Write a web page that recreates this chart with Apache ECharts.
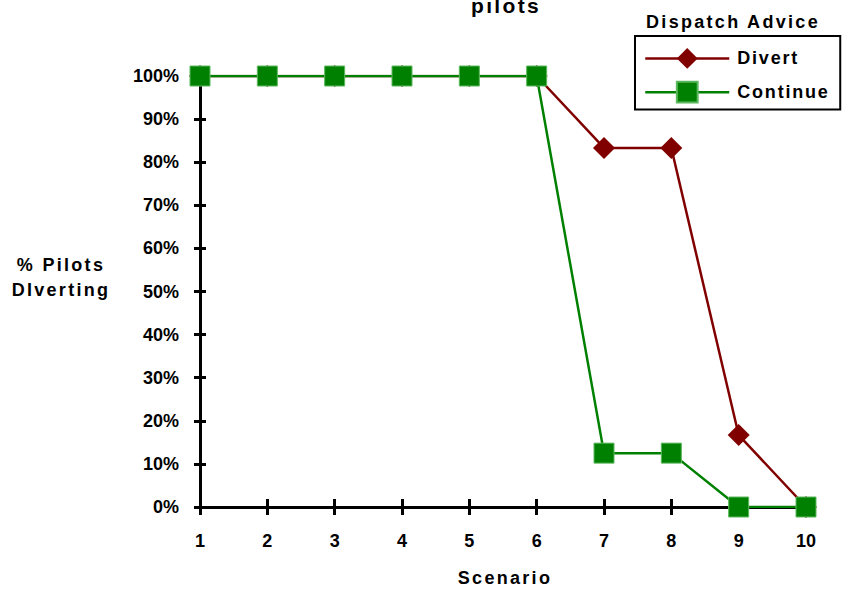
<!DOCTYPE html>
<html>
<head>
<meta charset="utf-8">
<script src="https://cdn.jsdelivr.net/npm/echarts@6/dist/echarts.min.js"></script>
<style>
  html, body { margin: 0; padding: 0; background: #fff; }
  #chart { width: 846px; height: 593px; }
  /* spaced-out lettering for the word labels (title, names, legend) */
  #chart text[style*="Helvetica, Arial"] { letter-spacing: 2.3px; }
  #chart text[style*="Helvetica, sans-serif"] { letter-spacing: 1.8px; }
</style>
</head>
<body>
<div id="chart"></div>
<script>
// Scenario numbers along the x axis
const scenarios = ['1', '2', '3', '4', '5', '6', '7', '8', '9', '10'];
// Share of pilots diverting for each dispatch advice (fraction of 1)
const divertShare = [1, 1, 1, 1, 1, 1, 0.833, 0.833, 0.167, 0];
const continueShare = [1, 1, 1, 1, 1, 1, 0.125, 0.125, 0, 0];
const seriesNames = ['Divert', 'Continue'];

const NUM_FONT = '"Liberation Sans", sans-serif';
const WORD_FONT = '"Liberation Sans", Helvetica, Arial, sans-serif';
const LEGEND_FONT = '"Liberation Sans", Helvetica, sans-serif';

const chart = echarts.init(document.getElementById('chart'), null, { renderer: 'svg' });

const tickText = { color: '#000', fontFamily: NUM_FONT, fontWeight: 'bold', fontSize: 18 };
const wordStyle = { fontFamily: WORD_FONT, fontWeight: 'bold', fontSize: 18, fill: '#000' };

chart.setOption({
  animation: false,
  backgroundColor: '#fff',
  legend: {
    data: seriesNames,
    orient: 'vertical',
    left: 635,
    top: 36,
    padding: [12, 25, 6, 9],
    itemGap: 12,
    itemWidth: 84,
    itemHeight: 26,
    borderColor: '#000',
    borderWidth: 2,
    lineStyle: { width: 2.5 },
    textStyle: { fontFamily: LEGEND_FONT, fontWeight: 'bold', fontSize: 18, color: '#000', padding: [0, 0, 0, 3] }
  },
  graphic: [
    {
      type: 'text', x: 506, y: 5,
      style: Object.assign({}, wordStyle, { text: 'pilots', fontSize: 21, align: 'center', verticalAlign: 'middle' })
    },
    {
      type: 'text', x: 733, y: 21.6,
      style: Object.assign({}, wordStyle, { text: 'Dispatch Advice', align: 'center', verticalAlign: 'middle' })
    },
    {
      type: 'text', x: 61, y: 277.3,
      style: Object.assign({}, wordStyle, {
        text: '% Pilots\nDIverting', align: 'center', verticalAlign: 'middle', lineHeight: 25
      })
    },
    {
      type: 'text', x: 505, y: 578.3,
      style: Object.assign({}, wordStyle, { text: 'Scenario', align: 'center', verticalAlign: 'middle' })
    }
  ],
  grid: { left: 200, right: 40, top: 76, bottom: 86, containLabel: false },
  xAxis: [
    {
      type: 'category', data: scenarios, boundaryGap: false,
      axisLine: { lineStyle: { color: '#000', width: 3 } },
      axisTick: { alignWithLabel: true, length: 8, lineStyle: { color: '#000', width: 3 } },
      axisLabel: Object.assign({ margin: 25 }, tickText),
      splitLine: { show: false }
    },
    {
      type: 'category', data: scenarios, boundaryGap: false, position: 'bottom',
      axisLine: { show: false },
      axisTick: { inside: true, length: 8, lineStyle: { color: '#000', width: 3 } },
      axisLabel: { show: false },
      splitLine: { show: false }
    }
  ],
  yAxis: [
    {
      type: 'value', min: 0, max: 1, interval: 0.1,
      axisLine: { show: true, lineStyle: { color: '#000', width: 3 } },
      axisTick: { show: true, length: 6, lineStyle: { color: '#000', width: 3 } },
      axisLabel: Object.assign({ margin: 21, formatter: v => Math.round(v * 100) + '%' }, tickText),
      splitLine: { show: false }
    },
    {
      type: 'value', min: 0, max: 1, interval: 0.1, position: 'left',
      axisLine: { show: false },
      axisTick: { show: true, inside: true, length: 6, lineStyle: { color: '#000', width: 3 } },
      axisLabel: { show: false },
      splitLine: { show: false }
    }
  ],
  series: [
    {
      name: seriesNames[0], type: 'line', data: divertShare,
      symbol: 'diamond', symbolSize: 22,
      lineStyle: { color: '#800000', width: 2.5 },
      itemStyle: { color: '#800000', borderColor: '#800000', borderWidth: 0 },
      z: 2
    },
    {
      name: seriesNames[1], type: 'line', data: continueShare,
      symbol: 'rect', symbolSize: 20,
      lineStyle: { color: '#008000', width: 2.5 },
      itemStyle: { color: '#008000', borderColor: '#5cb85c', borderWidth: 1 },
      z: 3
    }
  ]
});
</script>
</body>
</html>
